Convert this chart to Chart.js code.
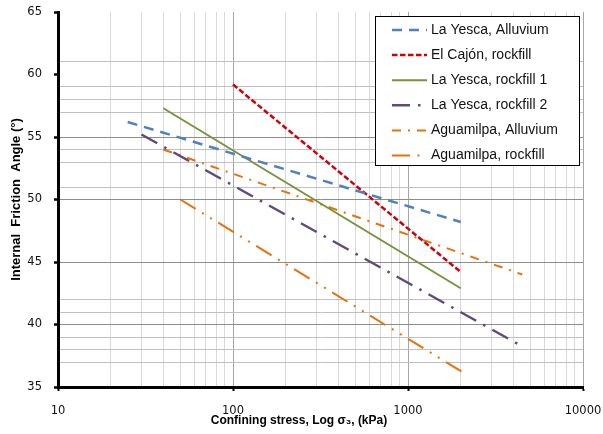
<!DOCTYPE html>
<html>
<head>
<meta charset="utf-8">
<script src="https://cdn.jsdelivr.net/npm/chart.js@4.4.0/dist/chart.umd.min.js"></script>
<style>
  body { margin: 0; background: #fff; }
</style>
</head>
<body>
<canvas id="frictionChart" width="603" height="434"></canvas>
<script>
// Series names (legend order)
const seriesNames = [
    'La Yesca, Alluvium',
    'El Cajón, rockfill',
    'La Yesca, rockfill 1',
    'La Yesca, rockfill 2',
    'Aguamilpa, Alluvium',
    'Aguamilpa, rockfill'
];

// Confining stress (kPa) and friction angle (deg) at the ends of each fitted line
const yescaAlluviumStress = [25, 2000];
const yescaAlluviumAngle = [56.2, 48.2];
const cajonRockfillStress = [100, 2000];
const cajonRockfillAngle = [59.2, 44.2];
const yescaRockfill1Stress = [40, 2000];
const yescaRockfill1Angle = [57.3, 42.9];
const yescaRockfill2Stress = [30, 4300];
const yescaRockfill2Angle = [55.2, 38.4];
const aguaAlluviumStress = [40, 4500];
const aguaAlluviumAngle = [54.0, 44.0];
const aguaRockfillStress = [50, 2100];
const aguaRockfillAngle = [50.0, 36.1];

// Axis ticks and the grid lines that show in the picture
const xMajorTicks = [10, 100, 1000, 10000];
const yMajorTicks = [35, 40, 45, 50, 55, 60, 65];
const yMajorGrid = [40, 45, 50, 55];
const yMinorGrid = [37, 38, 39, 41, 42, 51, 53, 54, 57, 58, 59, 61];

const xTitle = 'Confining stress, Log σ₃, (kPa)';
const yTitle = 'Internal  Friction  Angle (°)';

// Colours
const colors = {
    blue: '#4F81BD',
    red: '#D0000A',
    green: '#77933C',
    purple: '#604A7B',
    orange: '#E8710A',
    text: '#111'
};

function toPoints(xs, ys) {
    return xs.map((x, i) => ({ x: x, y: ys[i] }));
}

// log grid: 1..9 per decade
const xGridValues = [];
xMajorTicks.slice(0, -1).forEach(d => {
    for (let m = 1; m < 10; m++) xGridValues.push(d * m);
});
xGridValues.push(xMajorTicks[xMajorTicks.length - 1]);

const yGridValues = Array.from(new Set([...yMajorTicks, ...yMajorGrid, ...yMinorGrid])).sort((a, b) => a - b);

// Legend drawn inside the plot, top right; x title centred on the whole figure (like Excel)
const legendBox = {
    id: 'legendBox',
    afterDatasetsDraw(chart) {
        const ctx = chart.ctx;
        ctx.save();
        ctx.fillStyle = '#fff';
        ctx.fillRect(375.5, 16.5, 204, 149);
        ctx.strokeStyle = '#000';
        ctx.lineWidth = 1;
        ctx.strokeRect(375.5, 16.5, 204, 149);
        chart.data.datasets.forEach((ds, i) => {
            const y = 30 + i * 25.1;
            ctx.strokeStyle = ds.borderColor;
            ctx.lineWidth = ds.borderWidth;
            ctx.setLineDash(ds.borderDash || []);
            ctx.beginPath();
            ctx.moveTo(392, y);
            ctx.lineTo(427, y);
            ctx.stroke();
            ctx.setLineDash([]);
            ctx.fillStyle = colors.text;
            ctx.font = '14px "Liberation Sans"';
            ctx.textBaseline = 'middle';
            ctx.textAlign = 'left';
            ctx.fillText(ds.label, 431, y);
        });
        ctx.restore();
    },
    afterDraw(chart) {
        const ctx = chart.ctx;
        ctx.save();
        ctx.fillStyle = '#000';
        ctx.font = 'bold 12px "Liberation Sans"';
        ctx.textAlign = 'center';
        ctx.textBaseline = 'middle';
        ctx.fillText(xTitle, 299, 421);
        ctx.restore();
    }
};

function makeDataset(i, xs, ys, color, width, dash) {
    return {
        label: seriesNames[i],
        data: toPoints(xs, ys),
        borderColor: color,
        borderWidth: width,
        borderDash: dash,
        pointRadius: 0,
        fill: false,
        tension: 0
    };
}

new Chart(document.getElementById('frictionChart'), {
    type: 'line',
    data: {
        datasets: [
            makeDataset(0, yescaAlluviumStress, yescaAlluviumAngle, colors.blue, 2.5, [10, 7]),
            makeDataset(1, cajonRockfillStress, cajonRockfillAngle, colors.red, 2.5, [5.5, 2.5]),
            makeDataset(2, yescaRockfill1Stress, yescaRockfill1Angle, colors.green, 2, []),
            makeDataset(3, yescaRockfill2Stress, yescaRockfill2Angle, colors.purple, 2.5, [18, 8, 2.5, 8]),
            makeDataset(4, aguaAlluviumStress, aguaAlluviumAngle, colors.orange, 2, [9, 7, 2, 7]),
            makeDataset(5, aguaRockfillStress, aguaRockfillAngle, colors.orange, 2, [18, 7.5, 2, 7.5, 2, 7.5])
        ]
    },
    options: {
        responsive: false,
        animation: false,
        layout: { padding: { top: 12, right: 20, left: 0, bottom: 0 } },
        plugins: {
            legend: { display: false },
            tooltip: { enabled: false }
        },
        scales: {
            x: {
                type: 'logarithmic',
                min: 10,
                max: 10000,
                afterFit: scale => {
                    scale.height = 47;
                    scale.paddingLeft = 0;
                    scale.paddingRight = 0;
                },
                afterBuildTicks: scale => {
                    scale.ticks = xGridValues.map(v => ({ value: v }));
                },
                border: { color: '#000', width: 3 },
                grid: {
                    color: ctx => xMajorTicks.includes(ctx.tick.value) ? '#a6a6a6' : '#d9d9d9',
                    lineWidth: 1,
                    tickLength: 4,
                    tickWidth: 2,
                    tickColor: ctx => xMajorTicks.includes(ctx.tick.value) ? '#000' : 'rgba(0,0,0,0)'
                },
                ticks: {
                    autoSkip: false,
                    maxRotation: 0,
                    padding: 13,
                    color: colors.text,
                    font: { family: 'DejaVu Sans', size: 11.5 },
                    callback: value => xMajorTicks.includes(value) ? String(value) : ''
                },
                title: { display: false }
            },
            y: {
                min: 35,
                max: 65,
                afterFit: scale => {
                    scale.width = 58;
                    scale.paddingTop = 0;
                    scale.paddingBottom = 0;
                },
                afterBuildTicks: scale => {
                    scale.ticks = yGridValues.map(v => ({ value: v }));
                },
                border: { color: '#000', width: 3 },
                grid: {
                    color: ctx => {
                        const v = ctx.tick.value;
                        if (yMajorGrid.includes(v)) return '#8c8c8c';
                        if (yMinorGrid.includes(v)) return '#c0c0c0';
                        return 'rgba(0,0,0,0)';
                    },
                    lineWidth: 1,
                    tickLength: 4,
                    tickWidth: 2.5,
                    tickColor: ctx => yMajorTicks.includes(ctx.tick.value) ? '#000' : 'rgba(0,0,0,0)'
                },
                ticks: {
                    autoSkip: false,
                    padding: 12,
                    color: colors.text,
                    font: { family: 'DejaVu Sans', size: 11.5 },
                    callback: value => yMajorTicks.includes(value) ? String(value) : ''
                },
                title: {
                    display: true,
                    text: yTitle,
                    color: '#000',
                    font: { family: 'Liberation Sans', size: 13, weight: 'bold' },
                    padding: { top: 9, bottom: 0 }
                }
            }
        }
    },
    plugins: [legendBox]
});
</script>
</body>
</html>
